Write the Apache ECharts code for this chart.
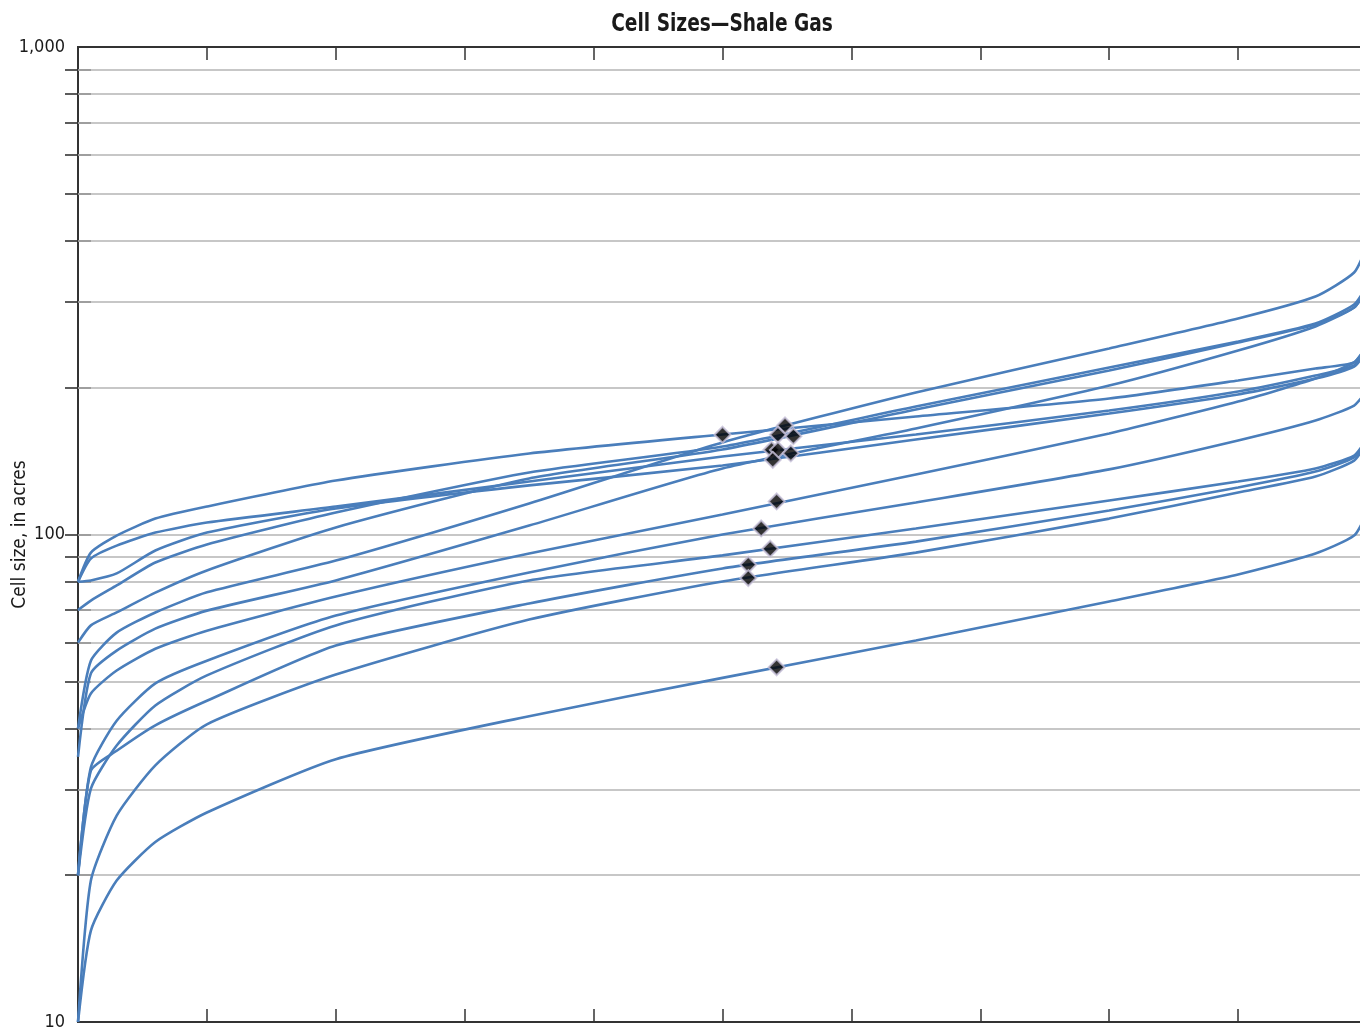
<!DOCTYPE html>
<html>
<head>
<meta charset="utf-8">
<title>Cell Sizes—Shale Gas</title>
<script src="https://cdn.jsdelivr.net/npm/echarts@6/dist/echarts.min.js"></script>
<style>
  html, body { margin: 0; padding: 0; background: #fff; }
  #chart { width: 1360px; height: 1030px; }
</style>
</head>
<body>
<div id="chart"></div>
<script>
// Percentile positions (x) at which each cell-size distribution is sampled
const percentiles = [0, 1, 3, 6, 10, 20, 35, 50, 65, 80, 90, 96, 99, 100];

// Cell size (acres) at each percentile, one array per assessment unit
const unitA = [80, 91.8, 99.5, 107.8, 114.1, 129.0, 146.6, 160.4, 174.6, 190.1, 207.0, 219.0, 225.4, 244.2];
const unitB = [80, 89.3, 94.9, 100.9, 105.8, 114.1, 128.4, 144.5, 160.4, 179.6, 196.5, 211.9, 222.2, 240.8];
const unitC = [80, 80.5, 83.2, 92.7, 100.9, 113.1, 126.1, 138.5, 156.6, 177.1, 193.8, 208.9, 221.1, 238.5];
const unitD = [70, 73.2, 78.6, 87.6, 95.4, 110.9, 134.0, 151.5, 183.0, 220.1, 248.8, 270.9, 296.3, 324.2];
const unitE = [60, 65.1, 69.2, 76.0, 84.4, 103.4, 130.3, 149.4, 180.5, 217.0, 247.6, 269.6, 292.2, 319.6];
const unitF = [40, 55.1, 62.9, 69.2, 76.1, 88.4, 115.8, 154.5, 195.6, 240.8, 277.4, 307.7, 344.7, 391.6];
const unitG = [35, 51.9, 57.8, 64.1, 69.8, 80.5, 104.3, 136.6, 165.0, 202.1, 238.5, 267.2, 292.2, 319.6];
const unitH = [40, 47.2, 52.6, 58.3, 63.5, 74.6, 91.4, 109.9, 132.8, 161.2, 187.4, 208.9, 225.4, 244.2];
const unitI = [20, 33.3, 41.5, 49.5, 55.1, 68.2, 83.6, 100.0, 116.3, 136.0, 155.9, 171.3, 183.9, 197.4];
const unitJ = [20, 30.1, 36.9, 44.6, 51.4, 65.1, 80.5, 90.6, 102.9, 117.4, 128.4, 136.6, 145.2, 157.4];
const unitK = [20, 32.8, 36.0, 40.6, 45.6, 59.2, 72.2, 85.2, 96.7, 112.0, 124.9, 134.6, 143.9, 155.9];
const unitL = [10, 19.5, 26.5, 33.6, 40.8, 51.6, 66.9, 80.1, 91.8, 107.8, 121.9, 131.5, 141.8, 154.5];
const unitM = [10, 15.4, 19.5, 23.4, 26.9, 34.6, 42.4, 50.8, 60.6, 72.9, 82.8, 91.4, 99.5, 110.9];

const units = [unitA, unitB, unitC, unitD, unitE, unitF, unitG, unitH, unitI, unitJ, unitK, unitL, unitM];

// Mean cell size of each unit, placed at the percentile where it falls
const meanPct  = [50.0, 54.85, 54.3, 55.5, 53.8, 54.3, 53.9, 55.3, 54.2, 53.0, 53.7, 52.0, 52.0, 54.2];
const meanSize = [160.2, 167.4, 160.2, 159.1, 149.2, 149.0, 142.3, 146.8, 116.9, 102.9, 93.5, 86.7, 81.4, 53.4];

// Log-axis tick labels and the minor gridline values
const yLabels = [10, 100, 1000];
const gridValues = [20, 30, 40, 50, 60, 70, 80, 90, 100, 200, 300, 400, 500, 600, 700, 800, 900];

const FONT = "'Liberation Sans Narrow', 'DejaVu Sans Condensed', 'Arial Narrow', sans-serif";
const LINE_BLUE = '#4a7ebb';
const AXIS_DARK = '#333333';

const chart = echarts.init(document.getElementById('chart'), null, { renderer: 'canvas' });

const curveSeries = units.map((vals, i) => ({
  name: 'unit' + i,
  type: 'line',
  z: 3,
  data: percentiles.map((p, k) => [p, vals[k]]),
  showSymbol: false,
  smooth: 0.2,
  lineStyle: { color: LINE_BLUE, width: 2.6 },
  clip: true,
  silent: true
}));

const gridSeries = {
  name: 'grid',
  type: 'line',
  data: [],
  silent: true,
  markLine: {
    z: 1,
    silent: true,
    symbol: ['none', 'none'],
    label: { show: false },
    lineStyle: { color: '#b4b4b4', width: 1.6, type: 'solid' },
    data: gridValues.map(v => ({ yAxis: v }))
  }
};

const meanSeries = {
  name: 'mean',
  type: 'scatter',
  z: 5,
  data: meanPct.map((p, i) => [p, meanSize[i]]),
  symbol: 'diamond',
  symbolSize: 16,
  itemStyle: { color: '#000000', borderColor: '#c7c1da', borderWidth: 2 },
  silent: true
};

const xAxisBase = {
  type: 'value',
  min: 0,
  max: 100,
  interval: 10,
  axisLine: { show: true, lineStyle: { color: AXIS_DARK, width: 2 } },
  axisTick: { show: true, inside: true, length: 13, lineStyle: { color: AXIS_DARK, width: 1.5 } },
  axisLabel: { show: false },
  splitLine: { show: false }
};

const yAxisBase = {
  type: 'log',
  logBase: 10,
  min: 10,
  max: 1000,
  axisLine: { show: true, lineStyle: { color: AXIS_DARK, width: 2 } },
  axisTick: { show: true, inside: true, length: 13, customValues: gridValues, lineStyle: { color: AXIS_DARK, width: 1.6 } },
  splitLine: { show: false },
  minorTick: { show: false },
  minorSplitLine: { show: false }
};

chart.setOption({
  animation: false,
  backgroundColor: '#ffffff',
  grid: { left: 78, right: -7, top: 47, bottom: 8, containLabel: false, outerBoundsMode: 'none' },
  graphic: [{
    type: 'text',
    x: 722,
    y: 25,
    scaleX: 0.86,
    style: {
      text: 'Cell Sizes—Shale Gas',
      font: "bold 24px " + FONT,
      fill: '#1a1a1a',
      align: 'center',
      verticalAlign: 'middle'
    },
    silent: true
  }],
  xAxis: [
    Object.assign({ position: 'bottom' }, xAxisBase),
    Object.assign({ position: 'top' }, xAxisBase)
  ],
  yAxis: [
    Object.assign({}, yAxisBase, {
      position: 'left',
      name: 'Cell size, in acres',
      nameLocation: 'middle',
      nameGap: 48,
      nameMoveOverlap: false,
      nameTextStyle: { fontFamily: FONT, fontSize: 19, color: '#1a1a1a' },
      axisLabel: {
        show: true,
        customValues: yLabels,
        margin: 13,
        fontFamily: FONT,
        fontSize: 18,
        color: '#1a1a1a',
        formatter: v => Number(v).toLocaleString('en-US')
      }
    }),
    Object.assign({}, yAxisBase, {
      position: 'right',
      axisLabel: { show: false }
    })
  ],
  series: [gridSeries].concat(curveSeries, [meanSeries])
});
</script>
</body>
</html>
